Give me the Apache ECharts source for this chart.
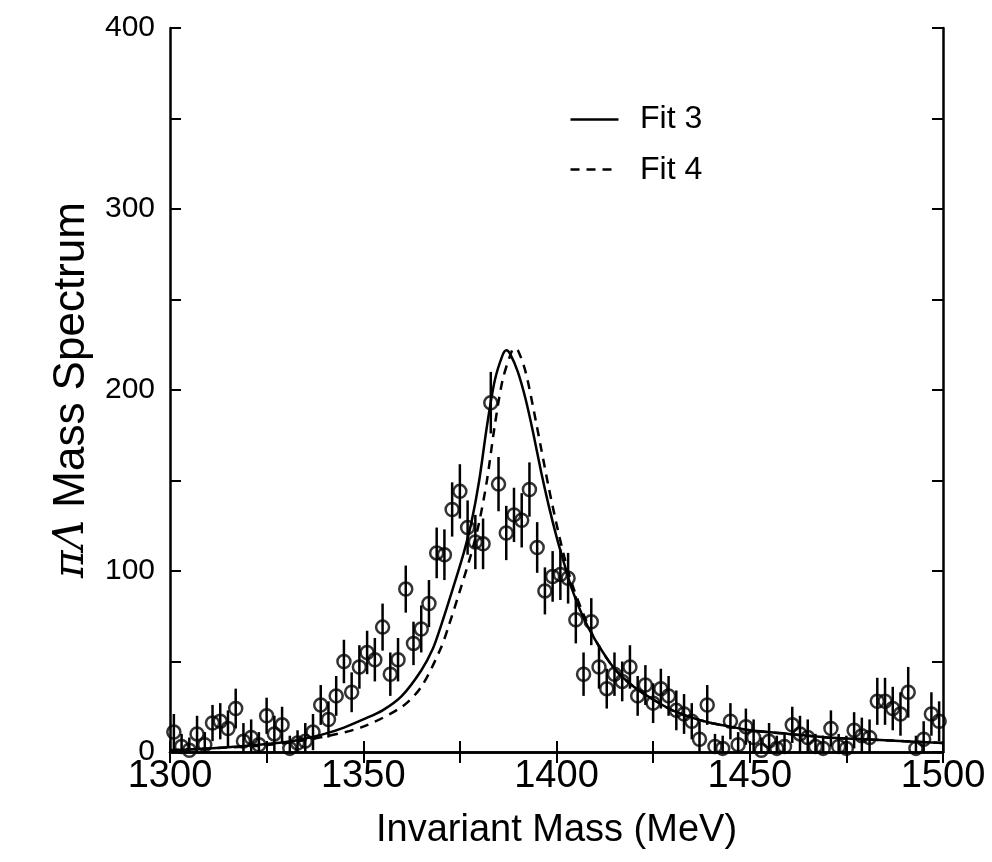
<!DOCTYPE html>
<html>
<head>
<meta charset="utf-8">
<script src="https://cdn.jsdelivr.net/npm/echarts@6/dist/echarts.min.js"></script>
<style>
html,body{margin:0;padding:0;background:#fff;}
#c{width:992px;height:862px;}
</style>
</head>
<body>
<div id="c"></div>
<script>
// ---- data ----
var masses = [1301,1303,1305,1307,1309,1311,1313,1315,1317,1319,
1321,1323,1325,1327,1329,1331,1333,1335,1337,1339,
1341,1343,1345,1347,1349,1351,1353,1355,1357,1359,
1361,1363,1365,1367,1369,1371,1373,1375,1377,1379,
1381,1383,1385,1387,1389,1391,1393,1395,1397,1399,
1401,1403,1405,1407,1409,1411,1413,1415,1417,1419,
1421,1423,1425,1427,1429,1431,1433,1435,1437,1439,
1441,1443,1445,1447,1449,1451,1453,1455,1457,1459,
1461,1463,1465,1467,1469,1471,1473,1475,1477,1479,
1481,1483,1485,1487,1489,1491,1493,1495,1497,1499];
var counts = [11,3,1,10,4,16,17,13,24,6,
8,4,20,10,15,2,5,6,11,26,
18,31,50,33,47,55,51,69,43,51,
90,60,68,82,110,109,134,144,124,116,
115,193,148,121,131,128,145,113,89,97,
98,96,73,43,72,47,35,43,39,47,
31,37,27,35,31,23,21,17,7,26,
3,2,17,4,14,8,1,6,2,3,
15,10,8,3,2,13,3,2,12,9,
8,28,28,24,21,33,2,7,21,17];
var errors = [10,7,7,10,7,10,10,10,11,10,
10,7,10,10,10,7,7,10,10,11,
10,11,12,11,12,12,12,13,12,12,
13,12,13,13,14,14,15,15,15,15,
14,17,15,15,15,15,15,14,13,14,
14,14,13,12,13,12,11,12,11,12,
11,11,11,11,11,11,11,10,10,11,
7,7,10,7,10,10,7,10,7,7,
10,10,10,7,7,10,7,7,10,10,
10,13,13,12,12,14,7,10,12,11];

var fit3X = [1300,1310,1320,1330,1335,1340,1345,1350,1355,1360,1365,1368,1370,1373,1376,1378,1380,1382,1384,1386,1387,1388,1390,1392,1394,1396,1398,1400,1402,1404,1407,1410,1415,1420,1425,1430,1435,1440,1445,1450,1460,1470,1480,1490,1500];
var fit3Y = [1,2,3.5,5.5,7.5,10,13.5,18,23,31,45,57,69,89,110,127,150,180,205,219,222,220,210,195,176,155,136,119,104,90,74,62,46,36,29,23,19,16,14,12,10,8,7,6,5];
var fit4X = [1300,1310,1320,1330,1340,1350,1360,1365,1370,1372,1375,1378,1380,1382,1384,1386,1388,1389,1390,1392,1394,1396,1398,1400,1402,1404,1407,1410,1415,1420,1425,1430,1435,1440,1445,1450,1460,1470,1480,1490,1500];
var fit4Y = [1,2,3,5,8.5,14,25,36,57,69,89,110,127,150,180,205,219,223,222,210,190,168,146,126,108,93,76,62,46,36,29,23,19,16,14,12,10,8,7,6,5];

var xTicks = [1300,1350,1400,1450,1500];
var yTicks = [0,100,200,300,400];
var legendNames = ['Fit 3','Fit 4'];
// ---- chart ----
var pts = masses.map(function(m,i){return [m,counts[i]];});
var bars = masses.map(function(m,i){return [m,counts[i],errors[i]];});
var f3 = fit3X.map(function(x,i){return [x,fit3Y[i]];});
var f4 = fit4X.map(function(x,i){return [x,fit4Y[i]];});

var FONT = 'Liberation Sans, Arial, sans-serif';
var axisLine = {show:true, lineStyle:{color:'#000', width:2.5}};
var tick = {show:true, inside:true, length:11, lineStyle:{color:'#000', width:2}};

var chart = echarts.init(document.getElementById('c'));
chart.setOption({
  backgroundColor:'#fff',
  animation:false,
  grid:{left:170, right:49, top:28, bottom:110},
  graphic:[
    {type:'line', left:568, top:117, shape:{x1:0,y1:0,x2:48,y2:0}, style:{stroke:'#000', lineWidth:2.5}},
    {type:'line', left:568, top:167, shape:{x1:0,y1:0,x2:48,y2:0}, style:{stroke:'#000', lineWidth:2.5, lineDash:[9,7]}},
    {type:'text', left:640, top:103, style:{text:legendNames[0], font:'32px Liberation Sans, Arial, sans-serif', fill:'#000'}},
    {type:'text', left:640, top:154, style:{text:legendNames[1], font:'32px Liberation Sans, Arial, sans-serif', fill:'#000'}}
  ],
  xAxis:[{
    type:'value', min:1300, max:1500, interval:25,
    axisLine:axisLine, axisTick:tick, splitLine:{show:false},
    axisLabel:{fontFamily:FONT, fontSize:38, color:'#000', margin:6,
      formatter:function(v){return xTicks.indexOf(v)>=0? String(v):'';}},
    name:'Invariant Mass (MeV)', nameLocation:'middle', nameGap:60,
    nameTextStyle:{fontFamily:FONT, fontSize:38, color:'#000'}
  },{
    type:'value', min:1300, max:1500, interval:25, position:'top',
    axisLine:axisLine, axisTick:tick, axisLabel:{show:false}, splitLine:{show:false}
  }],
  yAxis:[{
    type:'value', min:0, max:400, interval:50,
    axisLine:axisLine, axisTick:tick, splitLine:{show:false},
    axisLabel:{fontFamily:FONT, fontSize:30, color:'#000', margin:15,
      formatter:function(v){return yTicks.indexOf(v)>=0? String(v):'';}},
    name:'{g|πΛ} Mass Spectrum', nameLocation:'middle', nameGap:72,
    nameTextStyle:{fontFamily:FONT, fontSize:44, color:'#000',
      rich:{g:{fontFamily:'DejaVu Serif, serif', fontStyle:'italic', fontSize:42, color:'#000'}}}
  },{
    type:'value', min:0, max:400, interval:50, position:'right',
    axisLine:axisLine, axisTick:tick, axisLabel:{show:false}, splitLine:{show:false}
  }],
  series:[
    {
      type:'custom', name:'err', clip:true, silent:true, z:3,
      renderItem:function(params, api){
        var x = api.value(0), y = api.value(1), e = api.value(2);
        var p1 = api.coord([x, y - e]);
        var p2 = api.coord([x, y + e]);
        return {type:'line', shape:{x1:p1[0], y1:p1[1], x2:p2[0], y2:p2[1]},
          style:{stroke:'#000', lineWidth:2.5}};
      },
      encode:{x:0, y:1},
      data:bars
    },
    {
      type:'scatter', name:'data', symbol:'circle', symbolSize:13, z:4, clip:true,
      itemStyle:{color:'rgba(255,255,255,0)', borderColor:'#000', borderWidth:2.5},
      data:pts
    },
    {
      type:'line', name:'Fit 3', smooth:0.3, showSymbol:false, symbol:'none', z:5,
      lineStyle:{color:'#000', width:2.5, type:'solid'},
      data:f3
    },
    {
      type:'line', name:'Fit 4', smooth:0.3, showSymbol:false, symbol:'none', z:5,
      lineStyle:{color:'#000', width:2.5, type:[9,7]},
      data:f4
    }
  ]
});
</script>
</body>
</html>
